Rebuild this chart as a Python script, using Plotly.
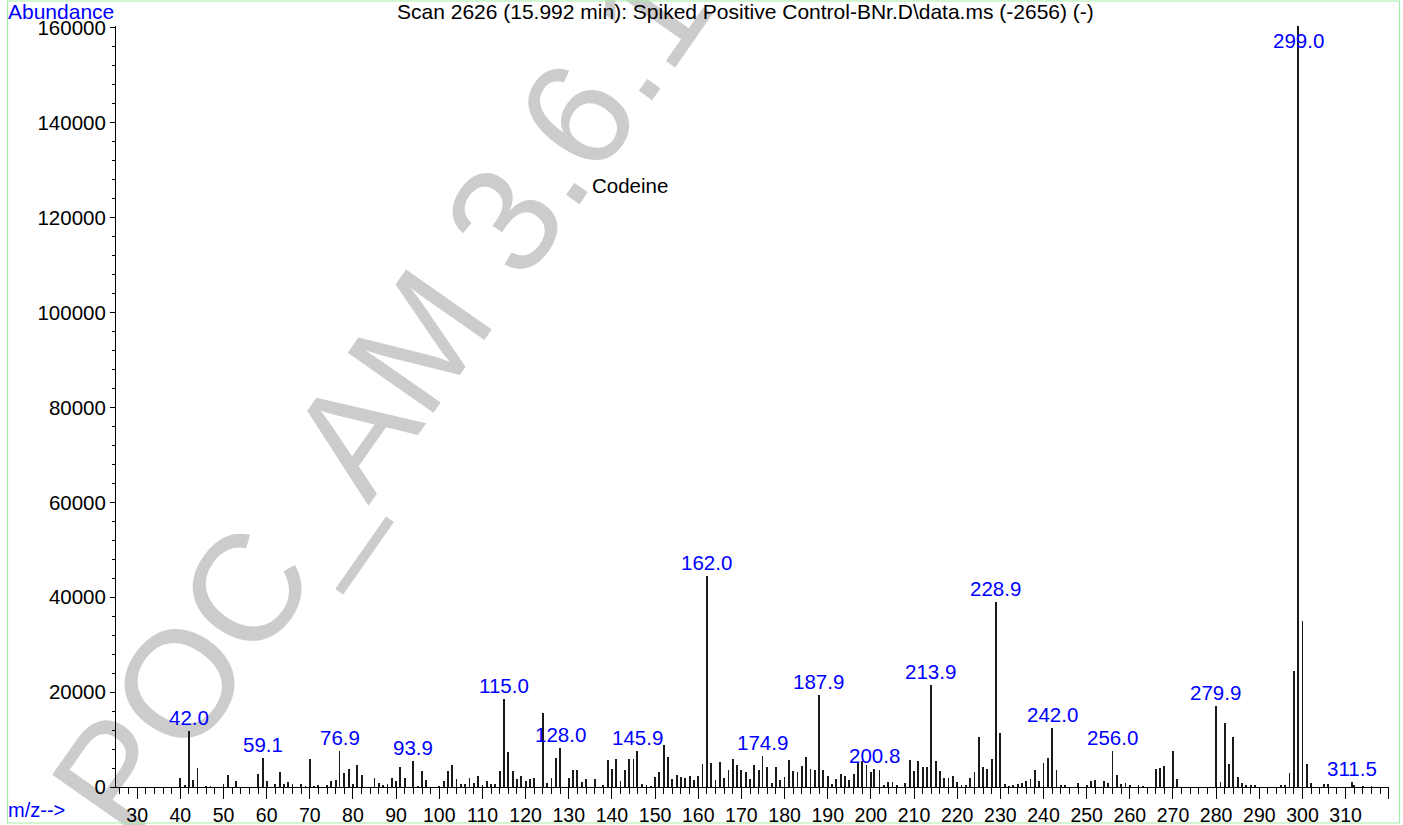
import plotly.graph_objects as go

# ---------------- data ----------------
mz = [40, 41, 42.0, 43, 44, 46, 47, 50, 51, 53, 58, 59.1, 60, 62, 63, 64, 65, 66, 68, 69,
      70, 71, 72, 74, 75, 76, 76.9, 78, 79, 80, 81, 82, 85, 86, 87, 88, 89, 90, 91, 92,
      93.9, 95, 96, 97, 100, 101, 102, 103, 104, 105, 106, 107, 108, 109, 110, 111, 112, 113, 114, 115.0,
      116, 117, 118, 119, 120, 121, 122, 124, 125, 126, 127, 128.0, 130, 131, 132, 133, 134, 136, 138, 139,
      140, 141, 142, 143, 144, 145, 145.9, 147, 148, 149, 150, 151, 152, 153, 154, 155, 156, 157, 158, 159,
      160, 161, 162.0, 163, 164, 165, 166, 167, 168, 169, 170, 171, 172, 173, 174, 174.9, 176, 177, 178, 179,
      180, 181, 182, 183, 184, 185, 186, 187, 187.9, 189, 190, 191, 192, 193, 194, 195, 196, 197, 198, 199,
      200, 200.8, 202, 203, 204, 205, 206, 208, 209, 210, 211, 212, 213, 213.9, 215, 216, 217, 218, 219, 220,
      221, 222, 223, 224, 225, 226, 227, 228, 228.9, 230, 231, 232, 233, 234, 235, 236, 237, 238, 239, 240,
      241, 242.0, 243, 244, 245, 248, 250, 251, 252, 254, 255, 256.0, 257, 258, 259, 260, 262, 263, 266, 267,
      268, 270, 271, 279.9, 281, 282, 283, 284, 285, 286, 287, 288, 289, 295, 296, 297, 298, 299.0, 300, 301,
      302, 305, 306, 311.5, 312, 314, 316]
abundance = [1900, 500, 11800, 1400, 4080, 150, 150, 560, 2600, 1260, 2800, 6100, 1200, 560, 3100, 560, 1100, 560, 560, 150,
             5800, 150, 280, 280, 1200, 1550, 7500, 2950, 3900, 630, 4700, 2450, 2000, 840, 280, 700, 2000, 1260, 4200, 1970,
             5400, 150, 3370, 1550, 150, 1230, 3370, 4700, 1760, 560, 700, 1900, 900, 2250, 350, 1330, 560, 700, 3370, 18600,
             7400, 3370, 1760, 2400, 1260, 1600, 1830, 15700, 900, 2000, 6100, 8150, 1830, 3650, 3650, 1050, 1600, 1760, 280, 5750,
             3700, 6000, 1260, 3580, 6000, 5900, 7500, 630, 420, 150, 2100, 3100, 8900, 6250, 1600, 2450, 2100, 2000, 2400, 1480,
             2250, 4900, 44500, 5000, 1550, 5200, 1900, 3650, 6000, 4600, 3580, 3100, 1600, 4700, 3580, 6450, 4300, 770, 4200, 1400,
             2150, 5750, 3300, 3100, 4350, 6250, 3700, 3500, 19500, 3650, 2300, 560, 1700, 2650, 2250, 1480, 2650, 5350, 5550, 4700,
             3100, 3900, 3500, 280, 1050, 1050, 350, 840, 5750, 3300, 5550, 4200, 4200, 21400, 5470, 3300, 1900, 1900, 2300, 1120,
             350, 490, 1830, 3160, 10500, 4150, 3900, 6000, 39000, 11300, 560, 200, 350, 560, 840, 1200, 1700, 3650, 1200, 5000,
             6200, 12500, 3500, 420, 280, 840, 490, 1200, 1400, 1200, 840, 7650, 2450, 700, 900, 350, 280, 150, 3800, 4080,
             4430, 7660, 1760, 17000, 1050, 13560, 4900, 10470, 2100, 840, 280, 490, 350, 420, 280, 2950, 24500, 160800, 35060, 4900,
             840, 560, 700, 1050, 490, 200, 150]
peak_labels = [42.0, 59.1, 76.9, 93.9, 115.0, 128.0, 145.9, 162.0, 174.9, 187.9,
               200.8, 213.9, 228.9, 242.0, 256.0, 279.9, 299.0, 311.5]
x_tickvals = list(range(30, 330, 10))
x_ticktext = [str(v) for v in range(30, 320, 10)] + [""]
y_tickvals = [0, 20000, 40000, 60000, 80000, 100000, 120000, 140000, 160000]
y_ticktext = [str(v) for v in y_tickvals]

title_text = "Scan 2626 (15.992 min): Spiked Positive Control-BNr.D\\data.ms (-2656) (-)"
compound = "Codeine"
watermark = "POC_AM 3.6.1"

# ---------------- layout geometry ----------------
W, H = 1403, 825
L, R, T, B = 116, 14, 26, 38
PW, PH = W - L - R, H - T - B


def px_x(p):
    return (p - L) / PW


def px_y(p):
    return (H - B - p) / PH


FONT = "Liberation Sans, Arial, Helvetica, sans-serif"
BLUE = "#0000ff"

fig = go.Figure()
fig.add_trace(go.Bar(x=mz, y=abundance, width=0.2,
                     marker=dict(color="#1a1a1a", line=dict(width=0)),
                     hoverinfo="x+y"))

annotations = []
for lab in peak_labels:
    val = abundance[mz.index(lab)]
    if val > 160000:
        annotations.append(dict(x=lab, xref="x", y=1, yref="paper", yanchor="top",
                                text=f"{lab:.1f}", showarrow=False, yshift=-1,
                                font=dict(color=BLUE, size=20.5, family=FONT)))
    else:
        annotations.append(dict(x=lab, xref="x", y=val, yref="y", yanchor="bottom",
                                text=f"{lab:.1f}", showarrow=False,
                                font=dict(color=BLUE, size=20.5, family=FONT)))

annotations += [
    dict(x=px_x(395), y=px_y(12), xref="paper", yref="paper", xanchor="left", yanchor="middle",
         text=title_text, showarrow=False, font=dict(color="#000000", size=21, family=FONT)),
    dict(x=px_x(6), y=px_y(12), xref="paper", yref="paper", xanchor="left", yanchor="middle",
         text="Abundance", showarrow=False, font=dict(color=BLUE, size=21, family=FONT)),
    dict(x=px_x(6), y=px_y(810), xref="paper", yref="paper", xanchor="left", yanchor="middle",
         text="m/z-->", showarrow=False, font=dict(color=BLUE, size=20, family=FONT)),
    dict(x=px_x(590), y=px_y(185), xref="paper", yref="paper", xanchor="left", yanchor="middle",
         text=compound, showarrow=False, font=dict(color="#000000", size=20.5, family=FONT)),
]

shapes = [
    # watermark (behind the data)
    dict(type="line", xref="paper", yref="paper",
         x0=px_x(366), x1=px_x(372), y0=px_y(388), y1=px_y(388),
         line=dict(width=0, color="rgba(0,0,0,0)"), layer="below",
         label=dict(text=watermark, textangle=-55, textposition="middle",
                    xanchor="center", yanchor="middle",
                    font=dict(size=152, color="#cccccc", family=FONT))),
    # green frame
    dict(type="rect", xref="paper", yref="paper",
         x0=px_x(7.5), x1=px_x(1399.5), y0=px_y(823), y1=px_y(1),
         line=dict(color="#a6eca6", width=1.2), fillcolor="rgba(0,0,0,0)", layer="above"),
]

fig.update_layout(
    width=W, height=H,
    margin=dict(l=L, r=R, t=T, b=B, pad=0, autoexpand=False),
    paper_bgcolor="white", plot_bgcolor="rgba(0,0,0,0)",
    showlegend=False, bargap=0,
    font=dict(family=FONT, color="#000000"),
    annotations=annotations, shapes=shapes,
    xaxis=dict(range=[25.1, 320.05], showline=True, linecolor="#000000", linewidth=1,
               automargin=False,
               ticks="outside", ticklen=11, tickwidth=1, tickcolor="#000000",
               tickmode="array", tickvals=x_tickvals, ticktext=x_ticktext,
               tickfont=dict(size=19.5, family=FONT, color="#000000"),
               showgrid=False, zeroline=False, fixedrange=True,
               minor=dict(tickmode="linear", tick0=0, dtick=2, ticks="outside", ticklen=6,
                          tickwidth=1, tickcolor="#000000", showgrid=False)),
    yaxis=dict(range=[0, 160420], showline=True, linecolor="#000000", linewidth=1,
               automargin=False,
               ticks="outside", ticklen=5, tickwidth=1, tickcolor="#000000",
               tickmode="array", tickvals=y_tickvals, ticktext=y_ticktext,
               tickfont=dict(size=20.5, family=FONT, color="#000000"),
               showgrid=False, zeroline=False, fixedrange=True,
               minor=dict(tickmode="linear", tick0=0, dtick=4000, ticks="outside", ticklen=3,
                          tickwidth=1, tickcolor="#000000", showgrid=False)),
)

# remove the browser's default page margin so the figure sits at the window's top-left corner
fig.write_html("out.html", config={"displayModeBar": False},
               post_script="document.body.style.margin='0';")
